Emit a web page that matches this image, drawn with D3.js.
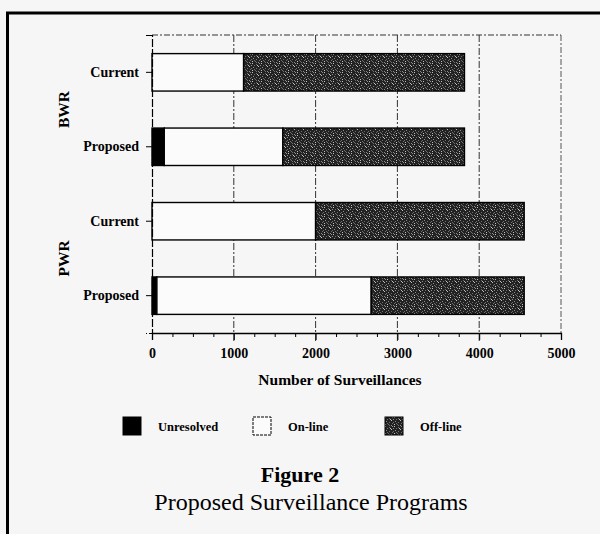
<!DOCTYPE html>
<html>
<head>
<meta charset="utf-8">
<script src="https://cdn.jsdelivr.net/npm/d3@7"></script>
<style>
  html, body { margin: 0; padding: 0; background: #f6f6f6; }
  svg { display: block; }
  text { font-family: "Liberation Serif", "Times New Roman", serif; fill: #000; }
</style>
</head>
<body>
<svg id="chart" width="600" height="534"></svg>
<script>
// Surveillance counts per reactor type and program
const groups = ["BWR", "BWR", "PWR", "PWR"];
const programs = ["Current", "Proposed", "Current", "Proposed"];
const unresolved = [0, 150, 0, 60];
const online = [1120, 1450, 2000, 2620];
const offline = [2700, 2220, 2550, 1870];
const seriesNames = ["Unresolved", "On-line", "Off-line"];
const xTicks = [0, 1000, 2000, 3000, 4000, 5000];

const rows = programs.map((p, i) => ({
  key: groups[i] + "-" + p,
  group: groups[i],
  program: p,
  "Unresolved": unresolved[i],
  "On-line": online[i],
  "Off-line": offline[i]
}));

const svg = d3.select("#chart");
const W = 600, H = 534;

svg.append("rect").attr("width", W).attr("height", H).attr("fill", "#f6f6f6");

// speckled dark fill for off-line segments
const defs = svg.append("defs");
const pat = defs.append("pattern")
  .attr("id", "speckle").attr("patternUnits", "userSpaceOnUse")
  .attr("width", 9).attr("height", 9);
pat.append("rect").attr("width", 9).attr("height", 9).attr("fill", "#222");
const speckles = [[0,0],[4,1],[7,0],[2,2],[6,3],[8,5],[1,4],[4,5],[0,7],[3,7],[6,8],[7,6],[5,2],[2,6],[8,2],[4,8]];
speckles.forEach(([px, py], k) => {
  pat.append("rect").attr("x", px).attr("y", py).attr("width", 1).attr("height", 1)
    .attr("fill", k % 4 === 0 ? "#c0c0c0" : (k % 2 ? "#6e6e6e" : "#8e8e8e"));
});

const colors = { "Unresolved": "#000", "On-line": "#fbfbfb", "Off-line": "url(#speckle)" };

// page frame
svg.append("line").attr("x1", 6).attr("x2", 600).attr("y1", 13).attr("y2", 13)
  .attr("stroke", "#000").attr("stroke-width", 3);
svg.append("line").attr("x1", 7.5).attr("x2", 7.5).attr("y1", 12).attr("y2", 534)
  .attr("stroke", "#000").attr("stroke-width", 3);

const plotLeft = 152, plotRight = 561, plotTop = 35, plotBottom = 333;

const x = d3.scaleLinear().domain([0, 5000]).range([plotLeft, plotRight]);
const y = d3.scaleBand().domain(rows.map(r => r.key)).range([plotTop, plotBottom])
  .paddingInner(0.497).paddingOuter(0.25);

// plot frame (dashed top and right)
svg.append("line").attr("x1", plotLeft).attr("x2", plotRight).attr("y1", plotTop).attr("y2", plotTop)
  .attr("stroke", "#333").attr("stroke-width", 1).attr("stroke-dasharray", "6,2,2,2");
svg.append("line").attr("x1", plotRight).attr("x2", plotRight).attr("y1", plotTop).attr("y2", plotBottom)
  .attr("stroke", "#555").attr("stroke-width", 1).attr("stroke-dasharray", "6,2,2,2");

// vertical grid lines
svg.append("g").selectAll("line")
  .data(xTicks.filter(t => t > 0 && t < 5000))
  .join("line")
  .attr("x1", d => x(d)).attr("x2", d => x(d))
  .attr("y1", plotTop).attr("y2", plotBottom + 9)
  .attr("stroke", "#333").attr("stroke-width", 1).attr("stroke-dasharray", "7,2,2,2");

// stacked bars
const stack = d3.stack().keys(seriesNames);
const stacked = stack(rows);
const barG = svg.append("g");
stacked.forEach(layer => {
  barG.append("g").selectAll("rect")
    .data(layer.filter(d => d[1] - d[0] > 0))
    .join("rect")
    .attr("x", d => x(d[0]))
    .attr("width", d => x(d[1]) - x(d[0]))
    .attr("y", d => y(d.data.key))
    .attr("height", y.bandwidth())
    .attr("fill", colors[layer.key])
    .attr("stroke", "#000").attr("stroke-width", 1.4);
});

// x axis with minor ticks
const xAxis = d3.axisBottom(x).tickValues(xTicks).tickSize(7).tickPadding(8)
  .tickFormat(d3.format("d"));
const gx = svg.append("g").attr("transform", `translate(0,${plotBottom})`).call(xAxis);
gx.select(".domain").attr("stroke", "#000").attr("stroke-width", 1.3);
gx.selectAll(".tick line").attr("stroke", "#000");
gx.selectAll(".tick text")
  .attr("font-family", "Liberation Serif, serif").attr("font-weight", "bold")
  .attr("font-size", 14).attr("fill", "#000");
svg.append("g").attr("transform", `translate(0,${plotBottom})`)
  .call(d3.axisBottom(x).tickValues(d3.range(250, 5000, 250).filter(t => t % 1000 !== 0))
    .tickSize(4).tickFormat(""))
  .call(g => g.select(".domain").remove())
  .selectAll("line").attr("stroke", "#000");

// y axis
const yAxis = d3.axisLeft(y).tickSize(6).tickPadding(7)
  .tickFormat(k => rows.find(r => r.key === k).program);
const gy = svg.append("g").attr("transform", `translate(${plotLeft},0)`).call(yAxis);
gy.select(".domain").attr("stroke", "#000").attr("stroke-width", 1.2)
  .attr("stroke-dasharray", "8,2");
gy.selectAll(".tick line").attr("stroke", "#000");
gy.selectAll(".tick text")
  .attr("font-family", "Liberation Serif, serif").attr("font-weight", "bold")
  .attr("font-size", 14).attr("fill", "#000");

// group labels
const groupNames = Array.from(new Set(groups));
groupNames.forEach(gname => {
  const keys = rows.filter(r => r.group === gname).map(r => r.key);
  const cy = (y(keys[0]) + y(keys[keys.length - 1]) + y.bandwidth()) / 2;
  svg.append("text")
    .attr("transform", `translate(69,${cy}) rotate(-90)`)
    .attr("text-anchor", "middle")
    .attr("font-weight", "bold").attr("font-size", 15.5)
    .text(gname);
});

// x axis title
svg.append("text").attr("x", 340).attr("y", 385).attr("text-anchor", "middle")
  .attr("font-weight", "bold").attr("font-size", 15.5)
  .text("Number of Surveillances");

// legend
const legendX = [123, 253, 385];
const lg = svg.append("g").selectAll("g").data(seriesNames).join("g")
  .attr("transform", (d, i) => `translate(${legendX[i]},417)`);
lg.append("rect").attr("width", 18).attr("height", 18)
  .attr("fill", d => colors[d])
  .attr("stroke", "#000").attr("stroke-width", 1)
  .attr("stroke-dasharray", d => d === "On-line" ? "3,1" : null);
lg.append("text").attr("x", 35).attr("y", 14)
  .attr("font-weight", "bold").attr("font-size", 12.5)
  .text(d => d);

// figure caption
svg.append("text").attr("x", 300).attr("y", 482).attr("text-anchor", "middle")
  .attr("font-weight", "bold").attr("font-size", 22)
  .text("Figure 2");
svg.append("text").attr("x", 311).attr("y", 510).attr("text-anchor", "middle")
  .attr("font-size", 24)
  .text("Proposed Surveillance Programs");
</script>
</body>
</html>
